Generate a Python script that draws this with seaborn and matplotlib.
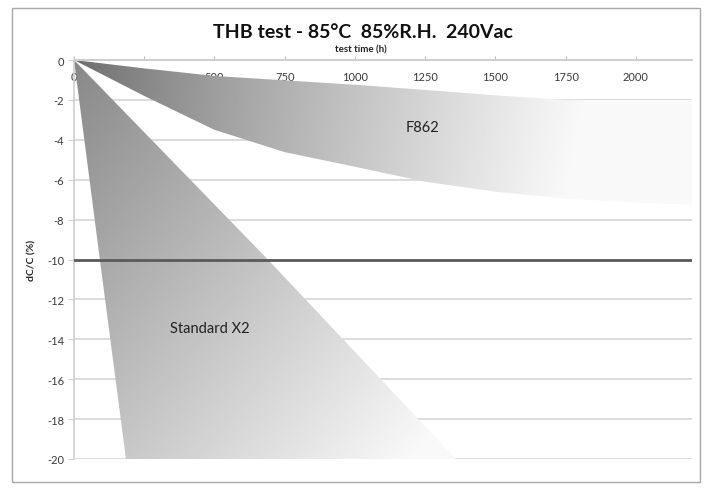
import numpy as np
import pandas as pd
import matplotlib
matplotlib.use("Agg")
import matplotlib.pyplot as plt
from matplotlib.patches import Rectangle
import seaborn as sns

# ---- data ----
f862_time = [0, 250, 500, 750, 1000, 1250, 1500, 1750, 2000, 2200]
f862_upper = [0, -0.42, -0.80, -1.02, -1.24, -1.50, -1.77, -2.0, -2.0, -2.0]
f862_lower = [0, -1.8, -3.5, -4.62, -5.35, -6.1, -6.6, -6.95, -7.15, -7.25]

x2_dc = [0, -10, -20]
x2_time_worst = [0, 92, 185]
x2_time_best = [0, 690, 1360]

limit_time = [0, 2200]
limit_dc = [-10, -10]

x_ticks = [0, 250, 500, 750, 1000, 1250, 1500, 1750, 2000]
y_ticks = [0, -2, -4, -6, -8, -10, -12, -14, -16, -18, -20]

title = "THB test - 85°C  85%R.H.  240Vac"
xlabel = "test time (h)"
ylabel = "dC/C (%)"

sns.set_theme(style="whitegrid")
plt.rcParams["font.family"] = ["Lato", "DejaVu Sans"]

fig = plt.figure(figsize=(7.06, 4.89), dpi=100)
ax = fig.add_axes([74 / 706, 1 - 460 / 489, (692 - 74) / 706, (460 - 61) / 489])
ax.set_facecolor("white")
ax.set_axisbelow(True)

xmax = 2200
ymin, ymax = -20, 0

# grid for gradients
gx = np.linspace(0, xmax, 400)
gy = np.linspace(ymin, ymax, 300)
GX, GY = np.meshgrid(gx, gy)

# F862 band with horizontal gradient
poly_f = ax.fill_between(f862_time, f862_lower, f862_upper, facecolor="none",
                         edgecolor="none", zorder=1)
val_f = 106 + 146 * np.clip(GX / 1900, 0, 1) ** 0.8 + 6 * (-GY / 7)
val_f = np.clip(val_f, 0, 249)
im_f = ax.imshow(val_f, extent=[0, xmax, ymin, ymax], origin="lower",
                 cmap="gray", vmin=0, vmax=255, aspect="auto", zorder=1,
                 interpolation="bilinear")
im_f.set_clip_path(poly_f.get_paths()[0], ax.transData)

# Standard X2 wedge with diagonal gradient
poly_x = ax.fill_betweenx(x2_dc, x2_time_worst, x2_time_best, facecolor="none",
                          edgecolor="none", zorder=1)
val_x = 136 + 55 * (-GY / 20) + 65 * (GX / 1360)
val_x = np.clip(val_x, 0, 249)
im_x = ax.imshow(val_x, extent=[0, xmax, ymin, ymax], origin="lower",
                 cmap="gray", vmin=0, vmax=255, aspect="auto", zorder=1,
                 interpolation="bilinear")
im_x.set_clip_path(poly_x.get_paths()[0], ax.transData)

# -10 % limit line
limit_df = pd.DataFrame({"t": limit_time, "dc": limit_dc})
sns.lineplot(data=limit_df, x="t", y="dc", ax=ax, color="#5a5a5a",
             linewidth=2.0, zorder=3)

ax.set_xlim(0, xmax)
ax.set_ylim(ymin, ymax)

# axes styling
ax.xaxis.set_ticks_position("top")
ax.xaxis.set_label_position("top")
ax.set_xticks(x_ticks)
ax.set_xticklabels([str(v) for v in x_ticks])
ax.set_yticks(y_ticks)
ax.set_yticklabels([str(v) for v in y_ticks])
ax.tick_params(axis="x", top=True, bottom=False, labeltop=True, labelbottom=False,
               direction="out", length=3, width=0.8, color="#bdbdbd",
               pad=-19, labelsize=8, labelcolor="#3a3a3a")
ax.tick_params(axis="y", left=True, direction="out", length=4, width=0.8,
               color="#cfcfcf", pad=3, labelsize=8, labelcolor="#3a3a3a")
ax.grid(axis="x", visible=False)
ax.grid(axis="y", color="#d2d2d2", linewidth=1.1)
for side in ["right", "bottom"]:
    ax.spines[side].set_visible(False)
ax.spines["top"].set_color("#cfcfcf")
ax.spines["top"].set_linewidth(1.5)
ax.spines["left"].set_color("#cfcfcf")
ax.spines["left"].set_linewidth(1.2)
ax.set_xlabel("")
ax.set_ylabel(ylabel, fontsize=7.5, fontweight="bold", color="#222222",
              labelpad=8)

# labels in the areas
ax.text(1242, -3.35, "F862", fontsize=10.5, color="#222222", ha="center",
        va="center", zorder=4)
ax.text(484, -13.45, "Standard X2", fontsize=10.5, color="#222222", ha="center",
        va="center", zorder=4)

# titles
fig.text(363 / 706, 1 - 33 / 489, title, fontsize=14, fontweight="bold",
         ha="center", va="center", color="#111111")
fig.text(361 / 706, 1 - 50 / 489, xlabel, fontsize=7, fontweight="bold",
         ha="center", va="center", color="#222222")

# chart frame
fig.patches.append(Rectangle((12 / 706, 1 - 483 / 489), (700 - 12) / 706,
                             (483 - 9) / 489, transform=fig.transFigure,
                             fill=False, edgecolor="#a8a8a8", linewidth=1.0))

fig.savefig("out.png", dpi=100, facecolor="white")
